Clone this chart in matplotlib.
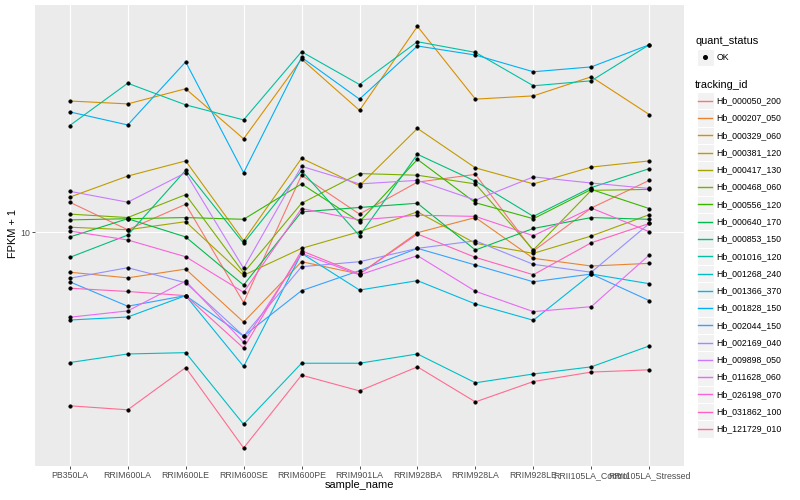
import matplotlib
matplotlib.use("Agg")
import matplotlib.pyplot as plt
from matplotlib.patches import Rectangle
from matplotlib.lines import Line2D
from matplotlib.ticker import NullLocator, FixedLocator, FixedFormatter

plt.rcParams['font.family'] = ['Liberation Sans', 'DejaVu Sans']

samples = ["PB350LA", "RRIM600LA", "RRIM600LE", "RRIM600SE", "RRIM600PE",
           "RRIM901LA", "RRIM928BA", "RRIM928LA", "RRIM928LE",
           "RRII105LA_Control", "RRII105LA_Stressed"]

tracking_ids = ["Hb_000050_200", "Hb_000207_050", "Hb_000329_060", "Hb_000381_120",
                "Hb_000417_130", "Hb_000468_060", "Hb_000556_120", "Hb_000640_170",
                "Hb_000853_150", "Hb_001016_120", "Hb_001268_240", "Hb_001366_370",
                "Hb_001828_150", "Hb_002044_150", "Hb_002169_040", "Hb_009898_050",
                "Hb_011628_060", "Hb_026198_070", "Hb_031862_100", "Hb_121729_010"]

# FPKM + 1 per sample (order of `samples`)
hb_000050_200 = [12.6, 10.2, 12.4, 5.83, 15.5, 11.5, 14.7, 15.6, 8.66, 12.05, 14.9]
hb_000207_050 = [7.36, 7.05, 7.54, 5.02, 7.98, 7.26, 9.97, 11.2, 8.19, 7.72, 7.88]
hb_000329_060 = [27.4, 26.8, 30.1, 20.5, 37.8, 25.5, 48.6, 27.8, 28.5, 33.0, 24.7]
hb_000381_120 = [13.1, 15.4, 17.3, 9.37, 17.65, 14.3, 22.2, 16.4, 14.5, 16.5, 17.3]
hb_000417_130 = [10.4, 10.2, 10.85, 7.19, 8.84, 10.05, 11.7, 9.19, 8.51, 9.72, 11.45]
hb_000468_060 = [11.5, 11.2, 13.35, 7.33, 12.5, 15.7, 15.5, 14.5, 8.73, 13.8, 13.9]
hb_000556_120 = [11.0, 11.1, 11.2, 11.05, 14.5, 10.85, 17.5, 12.55, 11.1, 13.9, 12.0]
hb_000640_170 = [9.65, 11.1, 9.65, 6.67, 11.7, 12.1, 12.5, 8.73, 10.3, 11.2, 11.05]
hb_000853_150 = [8.25, 9.79, 16.1, 9.19, 16.05, 9.74, 18.2, 14.8, 11.3, 14.1, 16.3]
hb_001016_120 = [22.7, 31.4, 26.6, 23.7, 40.0, 31.1, 43.2, 39.8, 30.8, 32.0, 42.2]
hb_001268_240 = [3.68, 3.93, 3.97, 2.29, 3.66, 3.66, 3.93, 3.15, 3.37, 3.56, 4.18]
hb_001366_370 = [5.10, 5.22, 6.15, 3.57, 8.51, 6.42, 6.90, 5.77, 5.09, 7.26, 6.74]
hb_001828_150 = [25.2, 22.8, 37.0, 15.8, 38.3, 27.8, 41.8, 39.0, 34.3, 35.6, 42.2]
hb_002044_150 = [6.84, 5.67, 6.15, 4.51, 6.39, 7.45, 8.84, 7.78, 6.84, 7.26, 5.92]
hb_002169_040 = [7.03, 7.62, 6.79, 4.51, 7.68, 7.98, 8.84, 9.37, 7.82, 7.36, 10.7]
hb_009898_050 = [13.7, 12.6, 15.8, 7.59, 16.6, 14.5, 14.9, 12.8, 15.3, 14.6, 14.0]
hb_011628_060 = [5.21, 5.47, 6.88, 4.30, 8.51, 7.21, 8.36, 6.36, 5.44, 5.65, 8.40]
hb_026198_070 = [10.1, 9.43, 8.29, 6.31, 12.0, 11.0, 11.4, 11.3, 9.74, 12.05, 10.05]
hb_031862_100 = [6.51, 6.35, 6.15, 4.11, 8.68, 7.26, 9.87, 8.25, 7.22, 9.23, 10.7]
hb_121729_010 = [2.64, 2.56, 3.54, 1.91, 3.34, 2.96, 3.56, 2.72, 3.18, 3.42, 3.48]

series = [hb_000050_200, hb_000207_050, hb_000329_060, hb_000381_120, hb_000417_130,
          hb_000468_060, hb_000556_120, hb_000640_170, hb_000853_150, hb_001016_120,
          hb_001268_240, hb_001366_370, hb_001828_150, hb_002044_150, hb_002169_040,
          hb_009898_050, hb_011628_060, hb_026198_070, hb_031862_100, hb_121729_010]

colors = ["#F8766D", "#EA8331", "#D89000", "#C09B00", "#A3A500", "#7CAE00", "#39B600",
          "#00BB4E", "#00BF7D", "#00C1A3", "#00BFC4", "#00BAE0", "#00B0F6", "#35A2FF",
          "#9590FF", "#C77CFF", "#E76BF3", "#FA62DB", "#FF62BC", "#FF6C91"]

W, H = 800, 500
fig = plt.figure(figsize=(8, 5), dpi=100)
fig.patch.set_facecolor('white')

pl, pr, pt, pb = 35, 684, 5, 466
ax = fig.add_axes([pl / W, 1 - pb / H, (pr - pl) / W, (pb - pt) / H])
ax.set_facecolor('#EBEBEB')
for s in ax.spines.values():
    s.set_visible(False)

x = list(range(len(samples)))
for vals, c in zip(series, colors):
    ax.plot(x, vals, color=c, lw=0.8, zorder=2, solid_capstyle='butt')
for vals in series:
    ax.plot(x, vals, linestyle='none', marker='o', ms=2.6, mfc='black', mec='black',
            mew=0.3, zorder=3)

ax.set_yscale('log')
ax.set_ylim(1.663, 57.26)
ax.set_xlim(-0.6, 10.6)
ax.yaxis.set_major_locator(FixedLocator([10]))
ax.yaxis.set_major_formatter(FixedFormatter(['10']))
ax.yaxis.set_minor_locator(NullLocator())
ax.set_xticks(x)
ax.set_xticklabels(samples)
ax.grid(True, which='major', color='white', lw=0.8)
ax.set_axisbelow(True)
ax.tick_params(axis='both', which='major', length=2.0, width=0.6, color='#333333',
               labelsize=6.3, labelcolor='#4D4D4D', pad=1.8)

fig.text(13 / W, 1 - 234 / H, 'FPKM + 1', rotation=90, ha='center', va='center',
         fontsize=7.9, color='black')
fig.text(359 / W, 1 - 485 / H, 'sample_name', ha='center', va='center',
         fontsize=7.9, color='black')

# legend drawn in pixel coordinates
lg = fig.add_axes([0, 0, 1, 1], facecolor='none')
lg.set_xlim(0, W)
lg.set_ylim(H, 0)
lg.axis('off')

kx0, kw, kh = 696.5, 17.0, 17.28
lg.text(695, 41, 'quant_status', fontsize=7.9, ha='left', va='center')
yc = 57.3
lg.add_patch(Rectangle((kx0, yc - kh / 2), kw, kh, facecolor='#F2F2F2',
                       edgecolor='white', lw=0.8, zorder=1))
lg.plot([kx0 + kw / 2], [yc], marker='o', ms=2.6, color='black', linestyle='none',
        zorder=3)
lg.text(716.5, yc, 'OK', fontsize=6.34, ha='left', va='center')

lg.text(695, 84.5, 'tracking_id', fontsize=7.9, ha='left', va='center')
for i, (tid, c) in enumerate(zip(tracking_ids, colors)):
    yc = 100.7 + 17.28 * i
    lg.add_patch(Rectangle((kx0, yc - kh / 2), kw, kh, facecolor='#F2F2F2',
                           edgecolor='white', lw=0.8, zorder=1))
    lg.add_line(Line2D([kx0 + 1.5, kx0 + kw - 1.5], [yc, yc], color=c, lw=1.0,
                       zorder=3))
    lg.text(716.5, yc, tid, fontsize=6.34, ha='left', va='center')

fig.savefig('out.png', dpi=100)
